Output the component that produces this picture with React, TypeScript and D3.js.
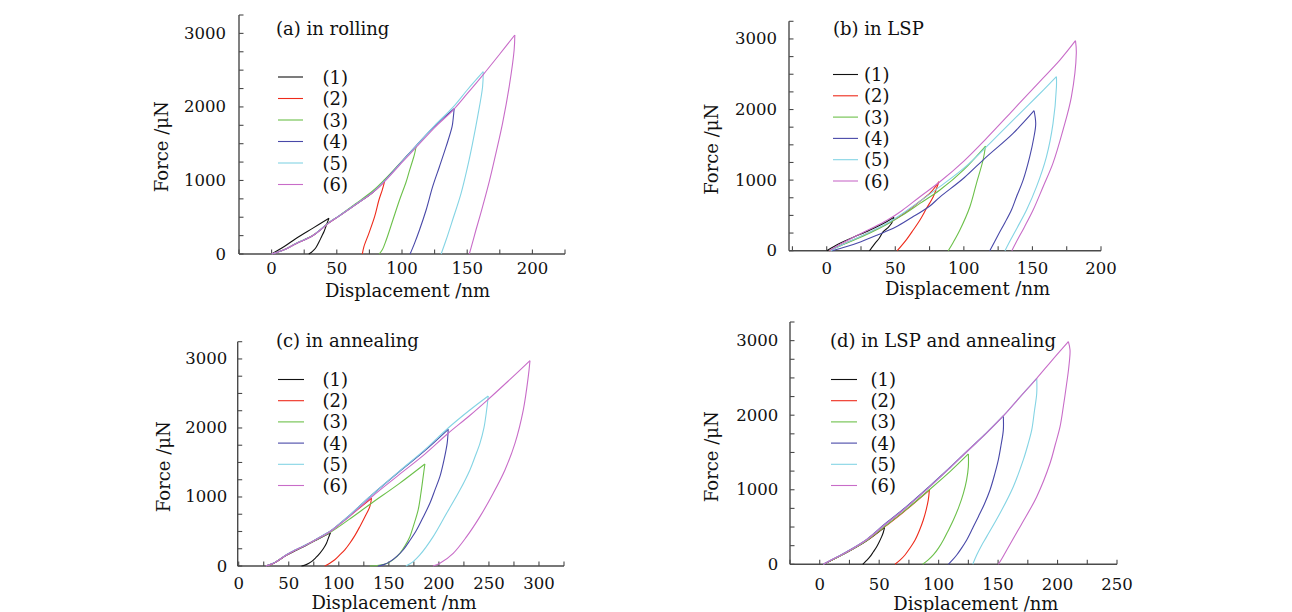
import React from "react";
import * as d3 from "d3";

type P = [number, number];

// ---------- data (displacement nm, force µN): loading then unloading ----------
const a1: P[] = [[0,0],[10,105],[19,215],[32,355],[44,485],[43,440],[42.1,394],[40.3,310],[38.3,235],[36.4,165],[34.4,99],[32.5,55],[30.6,23],[28.5,0]];
const a2: P[] = [[0,0],[10,60],[19,144],[32,256],[44,424],[52,518],[65,678],[77.7,840],[86.6,985],[85,880],[82.3,734],[79,507],[74.6,281],[70.8,100],[69.6,0]];
const a3: P[] = [[0,0],[10,62],[19,146],[32,258],[44,428],[52,522],[65,690],[77.7,860],[86.6,1010],[100,1262],[110.9,1465],[109.5,1350],[108.3,1278],[105.5,1120],[103.2,983],[98.1,734],[93,462],[87.9,190],[85,60],[82.5,0]];
const a4: P[] = [[0,0],[10,60],[19,144],[32,256],[44,426],[52,520],[65,680],[77.7,840],[86.6,995],[100,1260],[110.9,1475],[125,1740],[140,1975],[139.3,1850],[138.4,1731],[133.8,1459],[128.7,1187],[123.5,915],[118.5,598],[113.4,326],[109.6,145],[106.2,0]];
const a5: P[] = [[0,0],[10,61],[19,145],[32,257],[44,427],[52,521],[65,682],[77.7,842],[86.6,992],[100,1255],[110.9,1470],[125,1745],[138.8,1990],[150,2230],[162.3,2479],[161.8,2275],[158,1867],[154.1,1505],[150.3,1187],[145.3,825],[138.8,462],[133.8,190],[130,0]];
const a6: P[] = [[0,0],[10,60],[19,143],[32,255],[44,424],[52,518],[65,678],[77.7,838],[86.6,985],[100,1245],[110.9,1452],[125,1720],[138.8,1950],[150,2180],[162.3,2440],[175,2720],[186.5,2978],[186,2774],[182.2,2275],[177.1,1777],[172,1369],[166.9,983],[161.8,643],[156.7,326],[154,150],[151.6,0]];

const b1: P[] = [[0,0],[9.7,105],[19.4,190],[31.5,293],[43.7,411],[49,473],[47.3,388],[44.9,331],[41.2,269],[38.3,176],[35.2,105],[32,20],[31,0]];
const b2: P[] = [[2,0],[10,75],[20,160],[31.5,260],[43.7,380],[55,510],[68,700],[76,830],[81.8,977],[80.1,884],[77.7,765],[72.8,600],[68,435],[63.1,293],[58.3,161],[51.4,0]];
const b3: P[] = [[2,0],[10,70],[20,150],[31.5,250],[43.7,370],[55,500],[68,670],[82.5,860],[100,1150],[115.8,1483],[114,1285],[109.2,955],[104.4,623],[97.1,293],[92,110],[88.6,0]];
const b4: P[] = [[4,0],[14,55],[25,128],[37,222],[50,331],[62,470],[75,630],[82.5,760],[100,1030],[115.3,1309],[135.9,1663],[151.2,1983],[152.4,1800],[151,1600],[148,1330],[143.2,1000],[138.4,765],[134.7,576],[130,400],[125,222],[118.9,0]];
const b5: P[] = [[3,0],[12,90],[22,180],[33,280],[46,410],[60,590],[82.5,907],[100,1170],[115.3,1450],[135.9,1851],[152,2160],[167.5,2465],[167.5,2320],[165,1800],[160.2,1330],[153,907],[145.7,576],[139,330],[134,150],[130,0]];
const b6: P[] = [[2,0],[10,95],[20,195],[31,300],[44,430],[55,570],[68,765],[82.5,977],[100,1270],[115.3,1568],[135.9,1993],[155,2390],[170,2700],[181.4,2975],[182,2800],[178.4,2180],[172.3,1710],[165,1240],[157.8,907],[150.5,576],[144,330],[139,150],[135,0]];

const c1: P[] = [[27,0],[35,40],[47.7,155],[57,225],[67.7,302],[80,395],[91.7,483],[89.5,400],[87.7,329],[84.5,250],[81,184],[77,120],[72.7,63],[67.5,20],[62.7,0]];
const c2: P[] = [[27,0],[35,40],[47.7,159],[57,232],[67.7,308],[80,405],[91.7,505],[100,598],[110,715],[132.7,981],[131,860],[126,710],[121,570],[116,440],[111,330],[106,235],[101,160],[96,90],[91,40],[86,0]];
const c3: P[] = [[27,0],[35,40],[47.7,159],[57,232],[67.7,306],[80,400],[91.7,490],[110,672],[132.7,910],[160,1190],[186,1478],[184.3,1295],[182,1050],[179.3,812],[175,600],[171,425],[166,290],[161,184],[155,100],[149.3,45],[140,10],[131,0]];
const c4: P[] = [[27,0],[35,42],[47.7,162],[57,235],[67.7,310],[80,410],[91.7,508],[100,603],[110,725],[132.7,1025],[160,1362],[186,1672],[209.3,1981],[208.3,1780],[205,1530],[201,1295],[196,1100],[191,908],[184,700],[177.7,522],[171,370],[164.3,232],[158,140],[151,63],[145,20],[139,0]];
const c5: P[] = [[27,0],[35,42],[47.7,162],[57,235],[67.7,310],[80,410],[91.7,508],[100,603],[110,725],[132.7,1025],[160,1368],[186,1685],[209.3,2000],[230,2250],[249.3,2464],[247.7,2260],[245,2000],[241,1778],[236,1580],[231,1392],[221,1100],[207.7,763],[194.3,425],[181,160],[174,60],[167,0]];
const c6: P[] = [[27,0],[35,40],[47.7,160],[57,232],[67.7,306],[80,402],[91.7,500],[100,592],[110,708],[132.7,1000],[160,1320],[186,1622],[209.3,1923],[230,2170],[249.3,2415],[270,2690],[291,2975],[289.3,2744],[284.3,2260],[276,1778],[266,1392],[254.3,1054],[241,715],[227.7,425],[214.3,184],[201,40],[194,0]];

const dl1: P[] = [[3,0],[10,55],[22.7,158],[39.5,315],[54.5,495],[53.5,430],[52.1,371],[50,300],[47.9,236],[45,165],[42.3,102],[39,45],[36.2,0]];
const dl2: P[] = [[3,0],[10,55],[22.7,160],[39.5,318],[54,495],[70,695],[92.2,997],[91.3,863],[89.5,730],[87.1,594],[84,460],[80.2,326],[76,220],[71.7,125],[67.5,55],[63.3,0]];
const dl3: P[] = [[3,0],[10,55],[22.7,160],[39.5,320],[54,500],[70,700],[92.2,1000],[110,1250],[125,1480],[125,1310],[123.5,1130],[120.8,952],[117,770],[112.4,594],[108,450],[104,326],[100,220],[95.5,125],[91,55],[86.6,0]];
const dl4: P[] = [[3,0],[10,62],[22.7,170],[39.5,335],[54,530],[70,735],[92.2,1045],[110,1305],[125,1535],[140,1760],[154.4,1990],[154.4,1800],[152.5,1600],[150.2,1400],[147,1200],[143.2,997],[138.5,810],[133.4,639],[128.5,480],[123.6,326],[119,210],[115.2,125],[111.5,55],[108.2,0]];
const dl5: P[] = [[3,0],[10,60],[22.7,165],[39.5,330],[54,520],[70,725],[92.2,1035],[110,1300],[125,1530],[140,1755],[154.4,1990],[168,2235],[182.5,2495],[182.5,2294],[180.5,2050],[178.3,1802],[175,1600],[171.2,1400],[162.8,1041],[151.6,684],[140.4,371],[136,250],[132,125],[128.7,0]];
const dl6: P[] = [[3,0],[10,60],[22.7,165],[39.5,330],[54,520],[70,725],[92.2,1035],[110,1300],[125,1530],[140,1755],[154.4,1990],[168,2235],[182.5,2495],[195,2730],[209.1,2987],[210.5,2875],[209.5,2650],[207.7,2428],[205,2130],[202.1,1846],[198,1600],[193.7,1355],[182.5,907],[168.5,505],[157.3,192],[153,70],[150.2,0]];

const LEGEND = ["(1)", "(2)", "(3)", "(4)", "(5)", "(6)"];
const COLORS = ["#111111", "#ee2a1a", "#6cc04a", "#4848a8", "#84d4e4", "#c86cc8"];
const TITLES = ["(a) in rolling", "(b) in LSP", "(c) in annealing", "(d) in LSP and annealing"];
const Y_TICKS = [0, 1000, 2000, 3000];
const X_LABEL = "Displacement /nm";
const Y_LABEL = "Force /\u03bcN";

const FONT = "'DejaVu Serif', 'Liberation Serif', serif";
const AX = "#4a4a4a";
const TXT = "#111111";

interface PanelCfg {
  curves: P[][];
  title: string;
  xDom: [number, number];
  xRng: [number, number];
  yRng: [number, number];
  xLabMax: number;
  titleX: number; titleY: number;
  legLine: [number, number]; legText: number; legY: number; legStep: number;
  yLab: [number, number]; xLab: [number, number];
  xTickOff: number; yTickOff: number;
}

const panels: PanelCfg[] = [
  { curves: [a1, a2, a3, a4, a5, a6], title: TITLES[0], xDom: [-25, 225], xRng: [239, 565], yRng: [254, 15], xLabMax: 200,
    titleX: 276, titleY: 28.5, legLine: [278, 303], legText: 322.5, legY: 77, legStep: 21.5,
    yLab: [161.7, 146.7], xLab: [407.5, 290.7], xTickOff: 14.5, yTickOff: 13 },
  { curves: [b1, b2, b3, b4, b5, b6], title: TITLES[1], xDom: [-27.5, 200], xRng: [789, 1101], yRng: [250.7, 21.3], xLabMax: 200,
    titleX: 833, titleY: 28, legLine: [833, 858], legText: 864, legY: 74.5, legStep: 21.3,
    yLab: [711.7, 149.2], xLab: [967.5, 288], xTickOff: 17.6, yTickOff: 12 },
  { curves: [c1, c2, c3, c4, c5, c6], title: TITLES[2], xDom: [-1, 325], xRng: [237.7, 564], yRng: [566, 341.7], xLabMax: 300,
    titleX: 276, titleY: 340.7, legLine: [278, 304], legText: 322.5, legY: 379.5, legStep: 21.2,
    yLab: [163.3, 466.7], xLab: [394, 602], xTickOff: 17.3, yTickOff: 10.5 },
  { curves: [dl1, dl2, dl3, dl4, dl5, dl6], title: TITLES[3], xDom: [-25, 250], xRng: [790, 1117], yRng: [564.3, 322], xLabMax: 250,
    titleX: 830, titleY: 340.7, legLine: [831, 857], legText: 870.5, legY: 379.5, legStep: 21.2,
    yLab: [711.7, 456.7], xLab: [975.8, 603], xTickOff: 20, yTickOff: 11.7 },
];

function splitAtPeak(c: P[]): [P[], P[]] {
  const k = d3.maxIndex(c, (d) => d[1]);
  return [c.slice(0, k + 1), c.slice(k)];
}

function Panel({ cfg }: { cfg: PanelCfg }) {
  const x = d3.scaleLinear().domain(cfg.xDom).range(cfg.xRng);
  const y = d3.scaleLinear().domain([0, 3250]).range(cfg.yRng);
  const line = d3.line<P>().x((d) => x(d[0])).y((d) => y(d[1])).curve(d3.curveCatmullRom.alpha(0.5));
  const x0 = cfg.xRng[0];
  const y0 = y(0);
  const xMinor = d3.range(Math.ceil(cfg.xDom[0] / 25) * 25, cfg.xDom[1] + 0.01, 25);
  const yMinor = d3.range(0, 3250.01, 250);
  const xLabels = d3.range(0, cfg.xLabMax + 0.01, 50);
  return (
    <g>
      <line x1={x0} x2={x0} y1={y(0)} y2={y(3250)} stroke={AX} strokeWidth={1.4} />
      <line x1={x0} x2={cfg.xRng[1]} y1={y0} y2={y0} stroke={AX} strokeWidth={1.4} />
      {yMinor.map((v) => (
        <line key={"yt" + v} x1={x0} x2={x0 + 4.5} y1={y(v)} y2={y(v)} stroke={AX} strokeWidth={1.1} />
      ))}
      {xMinor.map((v) => (
        <line key={"xt" + v} x1={x(v)} x2={x(v)} y1={y0} y2={y0 - 4.5} stroke={AX} strokeWidth={1.1} />
      ))}
      {Y_TICKS.map((v) => (
        <text key={"yl" + v} x={x0 - cfg.yTickOff} y={y(v)} textAnchor="end" dominantBaseline="central"
          fontFamily={FONT} fontSize={16.5} fill={TXT}>{v}</text>
      ))}
      {xLabels.map((v) => (
        <text key={"xl" + v} x={x(v)} y={y0 + cfg.xTickOff} textAnchor="middle" dominantBaseline="central"
          fontFamily={FONT} fontSize={16.5} fill={TXT}>{v}</text>
      ))}
      <text x={cfg.xLab[0]} y={cfg.xLab[1]} textAnchor="middle" dominantBaseline="central"
        fontFamily={FONT} fontSize={18} fill={TXT}>{X_LABEL}</text>
      <text transform={`translate(${cfg.yLab[0]},${cfg.yLab[1]}) rotate(-90)`} textAnchor="middle" dominantBaseline="central"
        fontFamily={FONT} fontSize={18} fill={TXT}>{Y_LABEL}</text>
      <text x={cfg.titleX} y={cfg.titleY} dominantBaseline="central" fontFamily={FONT} fontSize={18} fill={TXT}>{cfg.title}</text>
      {cfg.curves.map((c, i) => {
        const [ld, ul] = splitAtPeak(c);
        return (
          <g key={"c" + i}>
            <path d={line(ld) || ""} fill="none" stroke={COLORS[i]} strokeWidth={1.1} strokeLinejoin="round" />
            <path d={line(ul) || ""} fill="none" stroke={COLORS[i]} strokeWidth={1.1} strokeLinejoin="round" />
          </g>
        );
      })}
      {LEGEND.map((lab, i) => {
        const ly = cfg.legY + i * cfg.legStep;
        return (
          <g key={"lg" + i}>
            <line x1={cfg.legLine[0]} x2={cfg.legLine[1]} y1={ly} y2={ly} stroke={COLORS[i]} strokeWidth={1.1} />
            <text x={cfg.legText} y={ly} dominantBaseline="central" fontFamily={FONT} fontSize={18} fill={TXT}>{lab}</text>
          </g>
        );
      })}
    </g>
  );
}

export default function App() {
  return (
    <svg width={1292} height={612} viewBox="0 0 1292 612"
      style={{ position: "absolute", left: 0, top: 0, background: "#ffffff" }}>
      {panels.map((p, i) => <Panel key={i} cfg={p} />)}
    </svg>
  );
}
